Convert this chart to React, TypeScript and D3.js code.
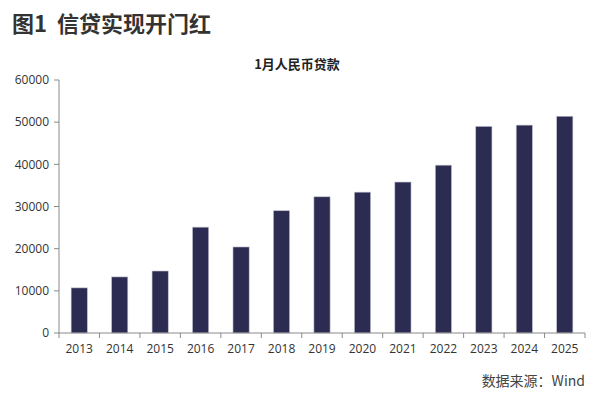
import React from "react";
import * as d3 from "d3";

const years = ["2013","2014","2015","2016","2017","2018","2019","2020","2021","2022","2023","2024","2025"];
const loans = [10700, 13300, 14700, 25100, 20400, 29000, 32300, 33400, 35800, 39800, 49000, 49300, 51400];
const yTicks = [0, 10000, 20000, 30000, 40000, 50000, 60000];

const W = 603, H = 398;
const margin = { left: 59, right: 18, top: 80, bottom: 65 };

export default function App() {
  const x = d3.scaleBand<string>().domain(years).range([margin.left, W - margin.right]).paddingInner(0.6).paddingOuter(0.3);
  const y = d3.scaleLinear().domain([0, 60000]).range([H - margin.bottom, margin.top]);
  const y0 = y(0);
  const font = "'Open Sans', 'Noto Sans CJK SC', sans-serif";
  const axisColor = "#8a8a8a";
  const boundaries = d3.range(years.length + 1).map(i => margin.left + i * (W - margin.right - margin.left) / years.length);
  return (
    <svg width={W} height={H} style={{ position: "absolute", left: 0, top: 0, background: "#fff" }} fontFamily={font}>
      <text x={12} y={32} fontSize={22} fontWeight="bold" fill="#333" fontFamily="'Noto Sans CJK SC', sans-serif" style={{ whiteSpace: "pre" }}>{"图1  信贷实现开门红"}</text>
      <text x={297} y={69} fontSize={13} fontWeight="bold" fill="#222" textAnchor="middle" fontFamily="'Noto Sans CJK SC', sans-serif">1月人民币贷款</text>
      {yTicks.map(t => (
        <g key={t}>
          <line x1={margin.left - 5} x2={margin.left} y1={y(t)} y2={y(t)} stroke={axisColor} />
          <text x={49} y={y(t)} dy="0.35em" textAnchor="end" fontSize={12} fill="#333">{t}</text>
        </g>
      ))}
      <line x1={margin.left} x2={margin.left} y1={y(60000)} y2={y0} stroke={axisColor} />
      {years.map((yr, i) => (
        <rect key={yr} x={x(yr)} y={y(loans[i])} width={x.bandwidth()} height={y0 - y(loans[i])} fill="#2c2c52" stroke="#bfc0cc" strokeWidth={0.6} />
      ))}
      <line x1={margin.left} x2={W - margin.right} y1={y0} y2={y0} stroke={axisColor} />
      {boundaries.map((b, i) => (
        <line key={i} x1={b} x2={b} y1={y0} y2={y0 + 5} stroke={axisColor} />
      ))}
      {years.map(yr => (
        <text key={yr} x={(x(yr) as number) + x.bandwidth() / 2} y={y0 + 20} textAnchor="middle" fontSize={12} fill="#333">{yr}</text>
      ))}
      <text x={585} y={386} textAnchor="end" fontSize={14} fill="#444" fontFamily="'Noto Sans CJK SC', sans-serif">数据来源：Wind</text>
    </svg>
  );
}
